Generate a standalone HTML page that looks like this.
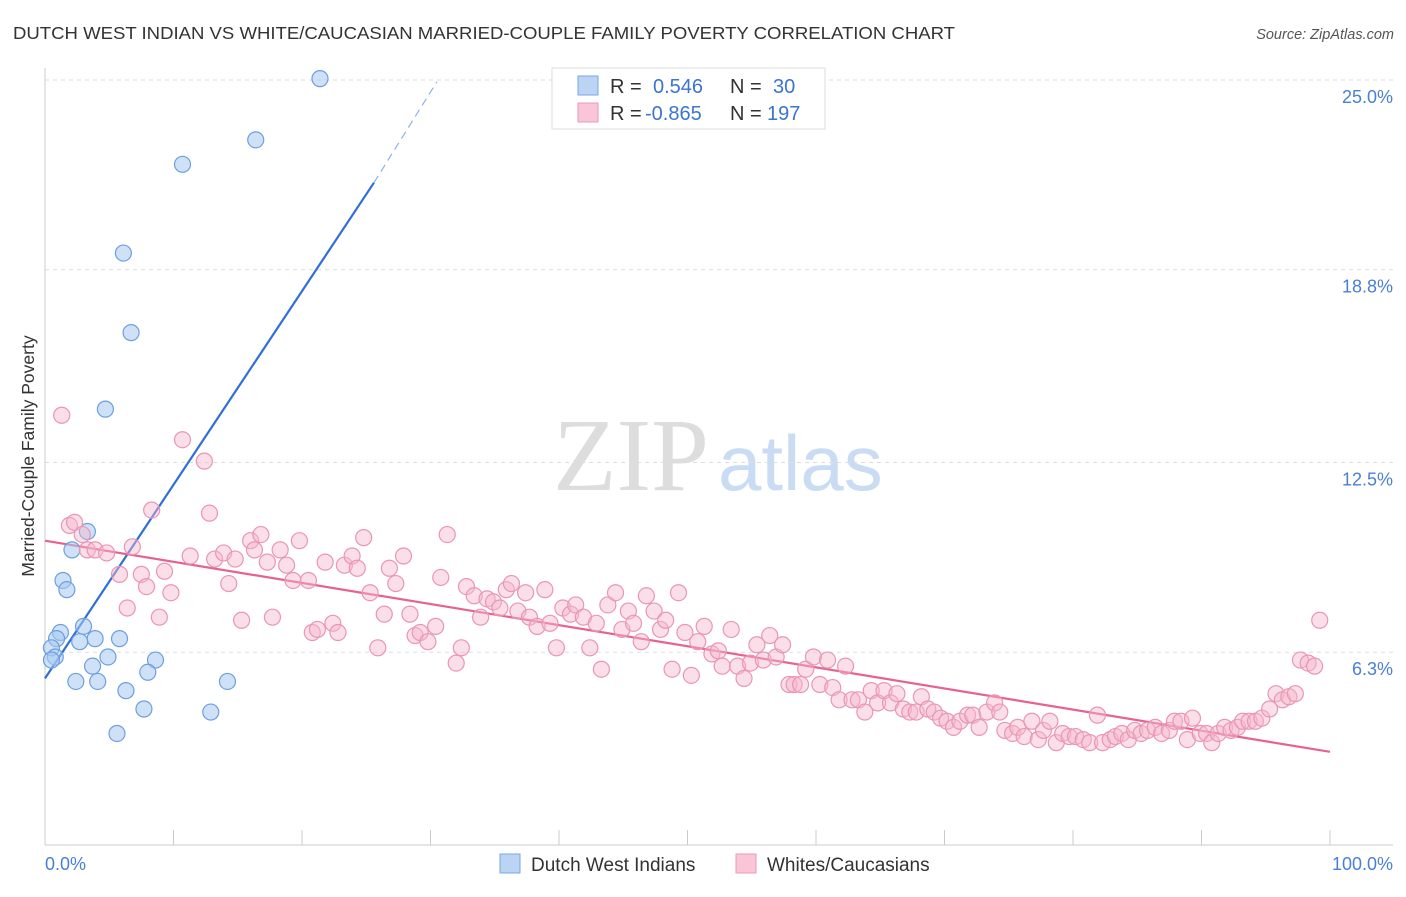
<!DOCTYPE html>
<html><head><meta charset="utf-8"><style>
body{margin:0;background:#fff;font-family:"Liberation Sans",sans-serif;}
svg text{font-family:"Liberation Sans",sans-serif;}
</style></head><body>
<svg id="chart" width="1406" height="892" viewBox="0 0 1406 892" xmlns="http://www.w3.org/2000/svg">
<text x="13" y="39" font-size="17.5" fill="#333" textLength="942" lengthAdjust="spacingAndGlyphs">DUTCH WEST INDIAN VS WHITE/CAUCASIAN MARRIED-COUPLE FAMILY POVERTY CORRELATION CHART</text>
<text x="1394" y="39" font-size="14.5" fill="#555" text-anchor="end" font-style="italic">Source: ZipAtlas.com</text>
<g>
<text x="553" y="490" font-size="104" fill="#ddd" style="font-family:'Liberation Serif',serif">ZIP</text>
<text x="718" y="490" font-size="78" fill="#c9dcf3">atlas</text>
</g>
<g id="grid"></g>
<g id="axes"></g>
<g id="lines"></g>
<g id="points"></g>
<text transform="translate(34,456) rotate(-90)" font-size="17.5" fill="#333" text-anchor="middle">Married-Couple Family Poverty</text>
<text x="45" y="870" font-size="18" fill="#4a7fd6">0.0%</text>
<text x="1393" y="870" font-size="18" fill="#4a7fd6" text-anchor="end">100.0%</text>
<g>
<rect x="552" y="68" width="273" height="61" fill="#fff" stroke="#ddd"/>
<rect x="578" y="76" width="20" height="19" fill="#bcd4f4" stroke="#7aa6e4"/>
<text x="610" y="93" font-size="20" fill="#333">R =</text>
<text x="653" y="93" font-size="20" fill="#3a75d0">0.546</text>
<text x="730" y="93" font-size="20" fill="#333">N =</text>
<text x="773" y="93" font-size="20" fill="#3a75d0">30</text>
<rect x="578" y="103" width="20" height="19" fill="#f8c6d6" stroke="#ec9ab6"/>
<text x="610" y="120" font-size="20" fill="#333">R =</text>
<text x="645" y="120" font-size="20" fill="#3a75d0">-0.865</text>
<text x="730" y="120" font-size="20" fill="#333">N =</text>
<text x="767" y="120" font-size="20" fill="#3a75d0">197</text>
</g>
<g>
<rect x="500" y="854" width="20" height="19" fill="#bcd4f4" stroke="#7aa6e4"/>
<text x="531" y="871" font-size="19" fill="#333">Dutch West Indians</text>
<rect x="736" y="854" width="20" height="19" fill="#f8c6d6" stroke="#ec9ab6"/>
<text x="767" y="871" font-size="19" fill="#333">Whites/Caucasians</text>
</g>
</svg>
<script>
const yTicks=[25.0,18.8,12.5,6.3];
const yTickLabels=["25.0%","18.8%","12.5%","6.3%"];
const blueX=[21.4,16.4,10.7,6.1,6.7,4.7,3.3,2.1,1.4,1.7,3.0,1.2,0.9,3.9,5.8,2.7,0.5,0.8,0.5,4.9,8.6,3.7,8.0,2.4,4.1,14.2,6.3,7.7,12.9,5.6];
const blueY=[25.6,23.6,22.8,19.9,17.3,14.8,10.8,10.2,9.2,8.9,7.7,7.5,7.3,7.3,7.3,7.2,7.0,6.7,6.6,6.7,6.6,6.4,6.2,5.9,5.9,5.9,5.6,5.0,4.9,4.2];
const pinkX=[1.3,1.9,2.3,2.9,3.3,3.9,4.8,6.8,5.8,6.4,7.5,7.9,8.3,9.3,9.8,8.9,10.7,11.3,12.4,12.8,13.2,13.9,14.3,14.8,15.3,16.0,16.3,16.8,17.3,18.3,17.7,18.8,19.3,19.8,20.5,20.8,21.2,21.8,22.4,22.8,23.3,23.9,24.3,24.8,25.3,25.9,26.4,26.8,27.3,27.9,28.4,28.8,29.2,29.8,30.4,30.8,31.3,32.0,32.4,32.8,33.4,33.9,34.4,34.9,35.4,35.9,36.3,36.8,37.4,37.7,38.3,38.9,39.3,39.8,40.3,40.9,41.3,41.9,42.4,42.9,43.3,43.8,44.4,44.9,45.4,45.8,46.4,46.8,47.4,47.9,48.3,48.8,49.3,49.8,50.3,50.8,51.3,51.9,52.4,52.7,53.4,53.9,54.4,54.9,55.4,55.9,56.4,56.9,57.4,57.9,58.3,58.8,59.2,59.8,60.3,60.9,61.3,61.8,62.3,62.8,63.3,63.8,64.3,64.8,65.3,65.8,66.3,66.8,67.3,67.8,68.2,68.7,69.2,69.7,70.2,70.7,71.2,71.8,72.2,72.7,73.3,73.9,74.3,74.7,75.3,75.7,76.2,76.8,77.3,77.7,78.2,78.7,79.2,79.7,80.2,80.8,81.3,81.9,82.3,82.9,83.3,83.8,84.3,84.8,85.3,85.8,86.4,86.9,87.5,87.9,88.4,88.9,89.3,89.9,90.4,90.8,91.3,91.8,92.3,92.8,93.2,93.7,94.2,94.7,95.3,95.8,96.3,96.8,97.3,97.7,98.3,98.8,99.2];
const pinkY=[14.6,11.0,11.1,10.7,10.2,10.2,10.1,10.3,9.4,8.3,9.4,9.0,11.5,9.5,8.8,8.0,13.8,10.0,13.1,11.4,9.9,10.1,9.1,9.9,7.9,10.5,10.2,10.7,9.8,10.2,8.0,9.7,9.2,10.5,9.2,7.5,7.6,9.8,7.8,7.5,9.7,10.0,9.6,10.6,8.8,7.0,8.1,9.6,9.1,10.0,8.1,7.4,7.5,7.2,7.7,9.3,10.7,6.5,7.0,9.0,8.7,8.0,8.6,8.5,8.3,8.9,9.1,8.2,8.8,8.0,7.7,8.9,7.8,7.0,8.3,8.1,8.4,8.0,7.0,7.8,6.3,8.4,8.8,7.6,8.2,7.8,7.2,8.7,8.2,7.6,7.9,6.3,8.8,7.5,6.1,7.2,7.7,6.8,6.9,6.4,7.6,6.4,6.0,6.5,7.1,6.6,7.4,6.7,7.1,5.8,5.8,5.8,6.3,6.7,5.8,6.6,5.7,5.3,6.4,5.3,5.3,4.9,5.6,5.2,5.6,5.2,5.5,5.0,4.9,4.9,5.4,5.0,4.9,4.7,4.6,4.4,4.6,4.8,4.8,4.4,4.9,5.2,4.9,4.3,4.2,4.4,4.1,4.6,4.0,4.3,4.6,3.9,4.2,4.1,4.1,4.0,3.9,4.8,3.9,4.0,4.1,4.2,4.0,4.3,4.2,4.3,4.4,4.2,4.3,4.6,4.6,4.0,4.7,4.2,4.2,3.9,4.2,4.4,4.3,4.4,4.6,4.6,4.6,4.7,5.0,5.5,5.3,5.4,5.5,6.6,6.5,6.4,7.9];
const blueTrend=[[0,6.0],[25.6,22.2],[30.5,25.5]];
const pinkTrend=[[0,10.5],[100,3.6]];
const NS='http://www.w3.org/2000/svg';
function xS(v){return 45+v*12.85;}
function yS(v){return 862-v*30.6;}
function mk(tag,parent,attrs){const e=document.createElementNS(NS,tag);for(const k in attrs)e.setAttribute(k,attrs[k]);document.getElementById(parent).appendChild(e);return e;}
yTicks.forEach((t,i)=>{
 const g=mk('line','grid',{x1:45,x2:1393,y1:yS(t)-17,y2:yS(t)-17,stroke:'#ddd','stroke-dasharray':'4,4'});
 
 
 const l=mk('text','grid',{x:1393,y:yS(t)+6,'font-size':18,fill:'#4a7fd6','text-anchor':'end'});
 l.textContent=yTickLabels[i];
 
 
});
const ax=mk('line','axes',{x1:45,x2:45,y1:68,y2:845,stroke:'#ccc'});


const bx=mk('line','axes',{x1:45,x2:1393,y1:845,y2:845,stroke:'#ccc'});


for(let k=0;k<=10;k++){
 const t=mk('line','axes',{x1:xS(k*10),x2:xS(k*10),y1:830,y2:845,stroke:'#ccc'});
 
 
}
blueX.forEach((x,i)=>{
 const c=mk('circle','points',{cx:xS(x),cy:yS(blueY[i]),r:8,fill:'rgba(168,200,240,0.55)',stroke:'#6d9fe0','stroke-width':1.2});
 
 
});
pinkX.forEach((x,i)=>{
 const c=mk('circle','points',{cx:xS(x),cy:yS(pinkY[i]),r:8,fill:'rgba(245,184,204,0.45)',stroke:'#eb95b3','stroke-width':1.2});
 
 
});
const b1=mk('line','lines',{x1:xS(blueTrend[0][0]),y1:yS(blueTrend[0][1]),x2:xS(blueTrend[1][0]),y2:yS(blueTrend[1][1]),stroke:'#2f6fd6','stroke-width':2.2});


const b2=mk('line','lines',{x1:xS(blueTrend[1][0]),y1:yS(blueTrend[1][1]),x2:xS(blueTrend[2][0]),y2:yS(blueTrend[2][1]),stroke:'#8fb2e8','stroke-width':1.2,'stroke-dasharray':'8,5'});


const p1=mk('line','lines',{x1:xS(pinkTrend[0][0]),y1:yS(pinkTrend[0][1]),x2:xS(pinkTrend[1][0]),y2:yS(pinkTrend[1][1]),stroke:'#e8628f','stroke-width':2.2});


</script>
</body></html>
